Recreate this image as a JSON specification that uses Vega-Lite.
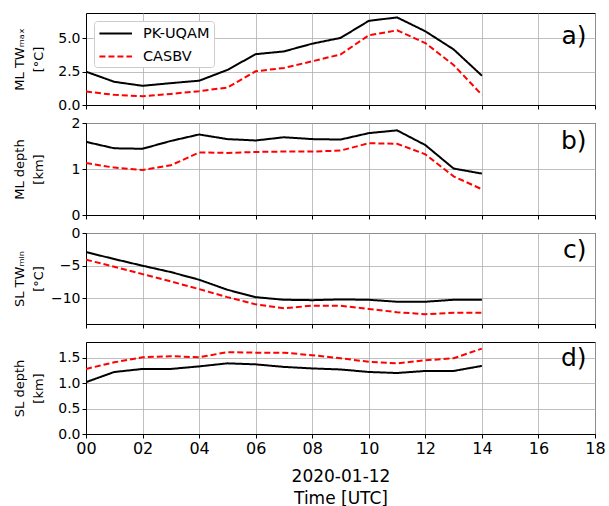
{
  "$schema": "https://vega.github.io/schema/vega-lite/v6.json",
  "background": "white",
  "padding": {"left": 12, "top": 12, "right": 5, "bottom": 0},
  "spacing": 18,
  "bounds": "flush",
  "config": {
    "font": "DejaVu Sans",
    "view": {"stroke": "black", "strokeWidth": 1},
    "axis": {
      "gridColor": "#b0b0b0", "gridWidth": 0.8, "domainColor": "black", "tickColor": "black",
      "labelColor": "black", "titleColor": "black", "labelFont": "DejaVu Sans", "titleFont": "DejaVu Sans",
      "titleFontWeight": "normal", "tickSize": 4, "labelOverlap": false, "tickCount": 20
    },
    "line": {"strokeWidth": 2}
  },
  "datasets": {
    "d": [
      {"hour": 0, "model": "PK-UQAM", "ml_tw": 2.5, "ml_depth": 1.59, "sl_tw": -2.91, "sl_depth": 1.02},
      {"hour": 1, "model": "PK-UQAM", "ml_tw": 1.74, "ml_depth": 1.45, "sl_tw": -3.98, "sl_depth": 1.22},
      {"hour": 2, "model": "PK-UQAM", "ml_tw": 1.44, "ml_depth": 1.44, "sl_tw": -5.0, "sl_depth": 1.28},
      {"hour": 3, "model": "PK-UQAM", "ml_tw": 1.64, "ml_depth": 1.61, "sl_tw": -5.97, "sl_depth": 1.28},
      {"hour": 4, "model": "PK-UQAM", "ml_tw": 1.82, "ml_depth": 1.75, "sl_tw": -7.14, "sl_depth": 1.33},
      {"hour": 5, "model": "PK-UQAM", "ml_tw": 2.63, "ml_depth": 1.65, "sl_tw": -8.67, "sl_depth": 1.39},
      {"hour": 6, "model": "PK-UQAM", "ml_tw": 3.81, "ml_depth": 1.62, "sl_tw": -9.8, "sl_depth": 1.37},
      {"hour": 7, "model": "PK-UQAM", "ml_tw": 4.02, "ml_depth": 1.69, "sl_tw": -10.2, "sl_depth": 1.32},
      {"hour": 8, "model": "PK-UQAM", "ml_tw": 4.6, "ml_depth": 1.65, "sl_tw": -10.26, "sl_depth": 1.29},
      {"hour": 9, "model": "PK-UQAM", "ml_tw": 5.03, "ml_depth": 1.64, "sl_tw": -10.15, "sl_depth": 1.27},
      {"hour": 10, "model": "PK-UQAM", "ml_tw": 6.31, "ml_depth": 1.78, "sl_tw": -10.2, "sl_depth": 1.22},
      {"hour": 11, "model": "PK-UQAM", "ml_tw": 6.57, "ml_depth": 1.84, "sl_tw": -10.5, "sl_depth": 1.2},
      {"hour": 12, "model": "PK-UQAM", "ml_tw": 5.53, "ml_depth": 1.52, "sl_tw": -10.5, "sl_depth": 1.24},
      {"hour": 13, "model": "PK-UQAM", "ml_tw": 4.17, "ml_depth": 1.01, "sl_tw": -10.2, "sl_depth": 1.24},
      {"hour": 14, "model": "PK-UQAM", "ml_tw": 2.2, "ml_depth": 0.9, "sl_tw": -10.2, "sl_depth": 1.34},
      {"hour": 0, "model": "CASBV", "ml_tw": 1.01, "ml_depth": 1.13, "sl_tw": -4.08, "sl_depth": 1.28},
      {"hour": 1, "model": "CASBV", "ml_tw": 0.76, "ml_depth": 1.03, "sl_tw": -5.15, "sl_depth": 1.41},
      {"hour": 2, "model": "CASBV", "ml_tw": 0.66, "ml_depth": 0.98, "sl_tw": -6.28, "sl_depth": 1.51},
      {"hour": 3, "model": "CASBV", "ml_tw": 0.83, "ml_depth": 1.08, "sl_tw": -7.4, "sl_depth": 1.53},
      {"hour": 4, "model": "CASBV", "ml_tw": 1.04, "ml_depth": 1.36, "sl_tw": -8.57, "sl_depth": 1.51},
      {"hour": 5, "model": "CASBV", "ml_tw": 1.31, "ml_depth": 1.35, "sl_tw": -9.8, "sl_depth": 1.61},
      {"hour": 6, "model": "CASBV", "ml_tw": 2.53, "ml_depth": 1.37, "sl_tw": -10.9, "sl_depth": 1.6},
      {"hour": 7, "model": "CASBV", "ml_tw": 2.78, "ml_depth": 1.38, "sl_tw": -11.5, "sl_depth": 1.6},
      {"hour": 8, "model": "CASBV", "ml_tw": 3.28, "ml_depth": 1.38, "sl_tw": -11.1, "sl_depth": 1.55},
      {"hour": 9, "model": "CASBV", "ml_tw": 3.79, "ml_depth": 1.4, "sl_tw": -11.1, "sl_depth": 1.49},
      {"hour": 10, "model": "CASBV", "ml_tw": 5.23, "ml_depth": 1.56, "sl_tw": -11.6, "sl_depth": 1.42},
      {"hour": 11, "model": "CASBV", "ml_tw": 5.6, "ml_depth": 1.55, "sl_tw": -12.1, "sl_depth": 1.39},
      {"hour": 12, "model": "CASBV", "ml_tw": 4.65, "ml_depth": 1.32, "sl_tw": -12.4, "sl_depth": 1.45},
      {"hour": 13, "model": "CASBV", "ml_tw": 3.0, "ml_depth": 0.84, "sl_tw": -12.2, "sl_depth": 1.49},
      {"hour": 14, "model": "CASBV", "ml_tw": 0.76, "ml_depth": 0.56, "sl_tw": -12.2, "sl_depth": 1.68}
    ]
  },
  "vconcat": [
    {
      "width": 509, "height": 92,
      "layer": [
        {
          "data": {"name": "d"},
          "mark": {"type": "line", "clip": true},
          "encoding": {
            "x": {"field": "hour", "type": "quantitative", "scale": {"domain": [0, 18], "nice": false, "zero": false},
                  "axis": {"values": [0,2,4,6,8,10,12,14,16,18], "labels": false, "title": null, "grid": true}},
            "y": {"field": "ml_tw", "type": "quantitative", "scale": {"domain": [0, 6.9], "nice": false},
                  "axis": {"values": [0, 2.5, 5], "format": ".1f", "labelFontSize": 14, "title": ["ML TWₘₐₓ", "[°C]"], "titleFontSize": 13, "titleX": -60, "titleLineHeight": 19}},
            "color": {"field": "model", "type": "nominal", "scale": {"domain": ["PK-UQAM", "CASBV"], "range": ["black", "#ff0000"]},
                      "legend": {"title": null, "orient": "top-left", "offset": 8, "symbolType": "M-1,0H3.6", "symbolSize": 200, "symbolStrokeWidth": 2,
                                 "labelFontSize": 14.5, "labelColor": "black", "rowPadding": 8, "padding": 4, "strokeColor": "#cccccc", "fillColor": "white", "cornerRadius": 3, "labelOffset": 28}},
            "strokeDash": {"field": "model", "type": "nominal", "scale": {"domain": ["PK-UQAM", "CASBV"], "range": [[1, 0], [6, 3]]}}
          }
        },
        {
          "data": {"values": [{"label": "a)"}]},
          "mark": {"type": "text", "fontSize": 25, "align": "right", "baseline": "middle", "font": "DejaVu Sans"},
          "encoding": {"x": {"datum": 17.7, "type": "quantitative"}, "y": {"datum": 5.2, "type": "quantitative"}, "text": {"field": "label"}}
        }
      ]
    },
    {
      "width": 509, "height": 92,
      "layer": [
        {
          "data": {"name": "d"},
          "mark": {"type": "line", "clip": true},
          "encoding": {
            "x": {"field": "hour", "type": "quantitative", "scale": {"domain": [0, 18], "nice": false, "zero": false},
                  "axis": {"values": [0,2,4,6,8,10,12,14,16,18], "labels": false, "title": null, "grid": true}},
            "y": {"field": "ml_depth", "type": "quantitative", "scale": {"domain": [0, 2], "nice": false},
                  "axis": {"values": [0, 0.9999, 2], "tickCount": 10, "labelExpr": "format(datum.value, '.0f')", "labelFontSize": 14, "title": ["ML depth", "[km]"], "titleFontSize": 13, "titleX": -60, "titleLineHeight": 19}},
            "color": {"field": "model", "type": "nominal", "scale": {"domain": ["PK-UQAM", "CASBV"], "range": ["black", "#ff0000"]}, "legend": null},
            "strokeDash": {"field": "model", "type": "nominal", "scale": {"domain": ["PK-UQAM", "CASBV"], "range": [[1, 0], [6, 3]]}, "legend": null}
          }
        },
        {
          "data": {"values": [{"label": "b)"}]},
          "mark": {"type": "text", "fontSize": 25, "align": "right", "baseline": "middle", "font": "DejaVu Sans"},
          "encoding": {"x": {"datum": 17.7, "type": "quantitative"}, "y": {"datum": 1.6, "type": "quantitative"}, "text": {"field": "label"}}
        }
      ]
    },
    {
      "width": 509, "height": 91,
      "layer": [
        {
          "data": {"name": "d"},
          "mark": {"type": "line", "clip": true},
          "encoding": {
            "x": {"field": "hour", "type": "quantitative", "scale": {"domain": [0, 18], "nice": false, "zero": false},
                  "axis": {"values": [0,2,4,6,8,10,12,14,16,18], "labels": false, "title": null, "grid": true}},
            "y": {"field": "sl_tw", "type": "quantitative", "scale": {"domain": [-13.9, 0], "nice": false, "zero": false},
                  "axis": {"values": [-10, -5, 0], "format": "d", "labelFontSize": 14, "title": ["SL TWₘᵢₙ", "[°C]"], "titleFontSize": 13, "titleX": -60, "titleLineHeight": 19}},
            "color": {"field": "model", "type": "nominal", "scale": {"domain": ["PK-UQAM", "CASBV"], "range": ["black", "#ff0000"]}, "legend": null},
            "strokeDash": {"field": "model", "type": "nominal", "scale": {"domain": ["PK-UQAM", "CASBV"], "range": [[1, 0], [6, 3]]}, "legend": null}
          }
        },
        {
          "data": {"values": [{"label": "c)"}]},
          "mark": {"type": "text", "fontSize": 25, "align": "right", "baseline": "middle", "font": "DejaVu Sans"},
          "encoding": {"x": {"datum": 17.7, "type": "quantitative"}, "y": {"datum": -2.6, "type": "quantitative"}, "text": {"field": "label"}}
        }
      ]
    },
    {
      "width": 509, "height": 92,
      "layer": [
        {
          "data": {"name": "d"},
          "mark": {"type": "line", "clip": true},
          "encoding": {
            "x": {"field": "hour", "type": "quantitative", "scale": {"domain": [0, 18], "nice": false, "zero": false},
                  "axis": {"values": [0,2,4,6,8,10,12,14,16,18], "labelExpr": "datum.value < 10 ? '0' + datum.value : '' + datum.value", "labelFontSize": 16, "labelFlush": false,
                           "title": ["2020-01-12", "Time [UTC]"], "titleFontSize": 17, "titlePadding": 12, "titleLineHeight": 22, "grid": true}},
            "y": {"field": "sl_depth", "type": "quantitative", "scale": {"domain": [0, 1.81], "nice": false},
                  "axis": {"values": [0, 0.5, 1, 1.5], "format": ".1f", "labelFontSize": 14, "title": ["SL depth", "[km]"], "titleFontSize": 13, "titleX": -60, "titleLineHeight": 19}},
            "color": {"field": "model", "type": "nominal", "scale": {"domain": ["PK-UQAM", "CASBV"], "range": ["black", "#ff0000"]}, "legend": null},
            "strokeDash": {"field": "model", "type": "nominal", "scale": {"domain": ["PK-UQAM", "CASBV"], "range": [[1, 0], [6, 3]]}, "legend": null}
          }
        },
        {
          "data": {"values": [{"label": "d)"}]},
          "mark": {"type": "text", "fontSize": 25, "align": "right", "baseline": "middle", "font": "DejaVu Sans"},
          "encoding": {"x": {"datum": 17.7, "type": "quantitative"}, "y": {"datum": 1.5, "type": "quantitative"}, "text": {"field": "label"}}
        }
      ]
    }
  ],
  "resolve": {"scale": {"color": "independent", "strokeDash": "independent"}}
}
